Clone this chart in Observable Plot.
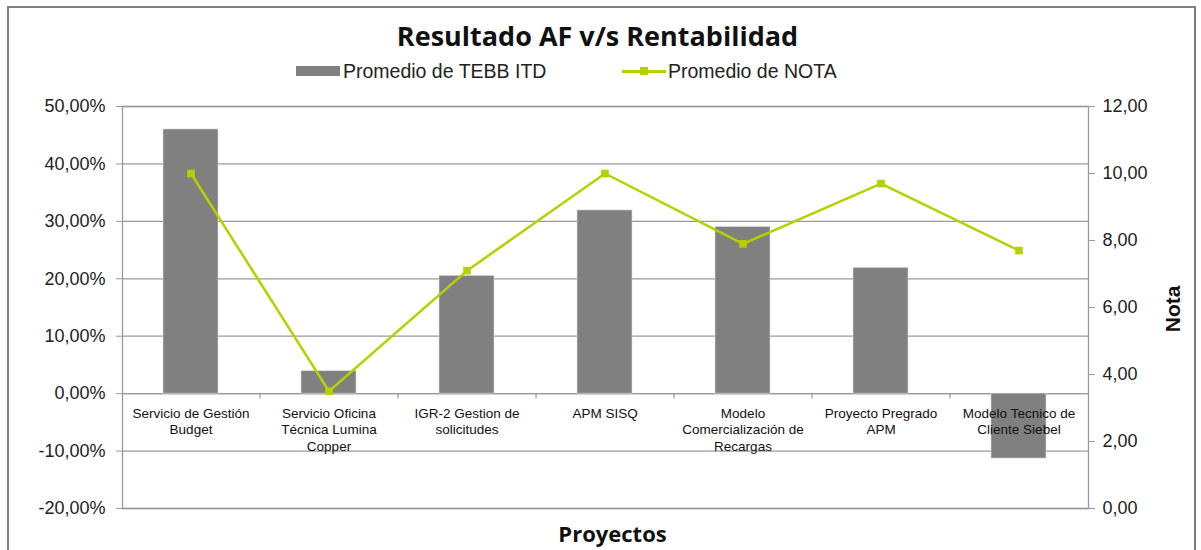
<!DOCTYPE html>
<html>
<head>
<meta charset="utf-8">
<script src="https://cdn.jsdelivr.net/npm/d3@7"></script>
<script src="https://cdn.jsdelivr.net/npm/@observablehq/plot@0.6"></script>
<style>
  html, body { margin: 0; padding: 0; background: #fff; width: 1201px; height: 550px; overflow: hidden; }
  #wrap { position: relative; width: 1201px; height: 550px; }
  #border { position: absolute; left: 7px; top: 6px; width: 1189px; height: 600px; border: 2px solid #808080; box-sizing: border-box; }
  #chart { position: absolute; left: 0; top: 0; }
  .leg { position: absolute; top: 60px; font-family: "Liberation Sans", Arial, sans-serif; font-size: 19.5px; color: #222; line-height: 22px; white-space: nowrap; }
  .sw-bar { position: absolute; width: 44px; height: 10px; background: #808080; }
  .sw-line { position: absolute; width: 44px; height: 2.5px; background: #b5d100; }
  .sw-mark { position: absolute; width: 8px; height: 8px; background: #b5d100; }
</style>
</head>
<body>
<div id="wrap">
  <div id="border"></div>
  <div id="chart"></div>
  <div class="sw-bar" style="left:296px; top:66px;"></div>
  <div class="leg" style="left:343px;">Promedio de TEBB ITD</div>
  <div class="sw-line" style="left:622px; top:70px;"></div>
  <div class="sw-mark" style="left:640px; top:67px;"></div>
  <div class="leg" style="left:668px;">Promedio de NOTA</div>
</div>
<script>
// ---- data ----
const categories = [
  "Servicio de Gestión Budget",
  "Servicio Oficina Técnica Lumina Copper",
  "IGR-2 Gestion de solicitudes",
  "APM SISQ",
  "Modelo Comercialización de Recargas",
  "Proyecto Pregrado APM",
  "Modelo Tecnico de Cliente Siebel"
];
const categoryLabels = [
  "Servicio de Gestión\nBudget",
  "Servicio Oficina\nTécnica Lumina\nCopper",
  "IGR-2 Gestion de\nsolicitudes",
  "APM SISQ",
  "Modelo\nComercialización de\nRecargas",
  "Proyecto Pregrado\nAPM",
  "Modelo Tecnico de\nCliente Siebel"
];
const tebbITD = [0.460, 0.039, 0.205, 0.319, 0.290, 0.219, -0.113];
const notaValues = [10.0, 3.5, 7.1, 10.0, 7.9, 9.7, 7.7];
const pctTicks = [-0.2, -0.1, 0, 0.1, 0.2, 0.3, 0.4, 0.5];
const notaTicks = [0, 2, 4, 6, 8, 10, 12];
const seriesNames = ["Promedio de TEBB ITD", "Promedio de NOTA"];

// ---- layout ----
const W = 1201, H = 550;
const mL = 122, mR = 113, mT = 106, mB = 42;
const step = (W - mL - mR) / categories.length;

// map nota (0..12) onto the left percent domain (-0.2..0.5)
const pMin = -0.2, pMax = 0.5, nMin = 0, nMax = 12;
const toLeft = n => pMin + (n - nMin) / (nMax - nMin) * (pMax - pMin);
const fromLeft = p => nMin + (p - pMin) / (pMax - pMin) * (nMax - nMin);

const rows = categories.map((c, i) => ({
  cat: c, label: categoryLabels[i], tebb: tebbITD[i], nota: notaValues[i]
}));

const fmtPct = d => (d * 100).toFixed(2).replace(".", ",") + "%";
const fmtNota = d => fromLeft(d).toFixed(2).replace(".", ",");
const gridColor = "#9a9a9a";
const lineColor = "#b5d100";
const axisFont = "Liberation Sans, Arial, sans-serif";
const catTickLen = 5 / ((H - mT - mB) / (pMax - pMin)); // 5px expressed in y units

const chart = Plot.plot({
  width: W, height: H,
  marginLeft: mL, marginRight: mR, marginTop: mT, marginBottom: mB,
  style: { fontFamily: axisFont, background: "transparent", overflow: "visible" },
  x: { domain: categories, paddingInner: 0.6, paddingOuter: 0.3, axis: null },
  y: { domain: [pMin, pMax] },
  marks: [
    Plot.gridY(pctTicks, { stroke: gridColor, strokeOpacity: 1, strokeWidth: 1.3 }),
    Plot.frame({ stroke: gridColor, strokeWidth: 1.3 }),
    Plot.ruleX(rows, { x: "cat", dx: -step / 2, y1: () => 0, y2: () => -catTickLen, stroke: gridColor, strokeWidth: 1.3,
      filter: (d, i) => i > 0 }),
    Plot.ruleY([0], { stroke: gridColor, strokeWidth: 1.3 }),
    Plot.barY(rows, { x: "cat", y: "tebb", fill: "#808080", stroke: "#d9d9d9", strokeWidth: 0.6 }),
    Plot.line(rows, { x: "cat", y: d => toLeft(d.nota), stroke: lineColor, strokeWidth: 2.5 }),
    Plot.dot(rows, { x: "cat", y: d => toLeft(d.nota), symbol: "square", r: 4.3, fill: lineColor, stroke: null }),
    Plot.axisY(pctTicks, { anchor: "left", tickFormat: fmtPct, tickSize: 6, tickPadding: 11,
      fontSize: 18, fill: "#222", stroke: gridColor, label: null }),
    Plot.axisY(notaTicks.map(toLeft), { anchor: "right", tickFormat: fmtNota, tickSize: 6, tickPadding: 8,
      fontSize: 18, fill: "#222", stroke: gridColor, label: null }),
    Plot.text(rows, { x: "cat", y: () => 0, text: "label", lineAnchor: "top", dy: 12,
      fontSize: 13.5, lineHeight: 1.25, fill: "#111", fontFamily: axisFont }),
    Plot.text(["Resultado AF v/s Rentabilidad"], { frameAnchor: "top", dy: -80, dx: -8,
      fontSize: 27, fontWeight: "bold", fontFamily: "Open Sans, sans-serif", fill: "#111" }),
    Plot.text(["Proyectos"], { frameAnchor: "bottom", dy: 33, dx: 7,
      fontSize: 22, fontWeight: "bold", fontFamily: "Open Sans, sans-serif", fill: "#111" }),
    Plot.text(["Nota"], { frameAnchor: "right", dx: 85, dy: -22, rotate: -90,
      fontSize: 21, fontWeight: "bold", fontFamily: axisFont, fill: "#111" })
  ]
});
document.getElementById("chart").appendChild(chart);
</script>
</body>
</html>
